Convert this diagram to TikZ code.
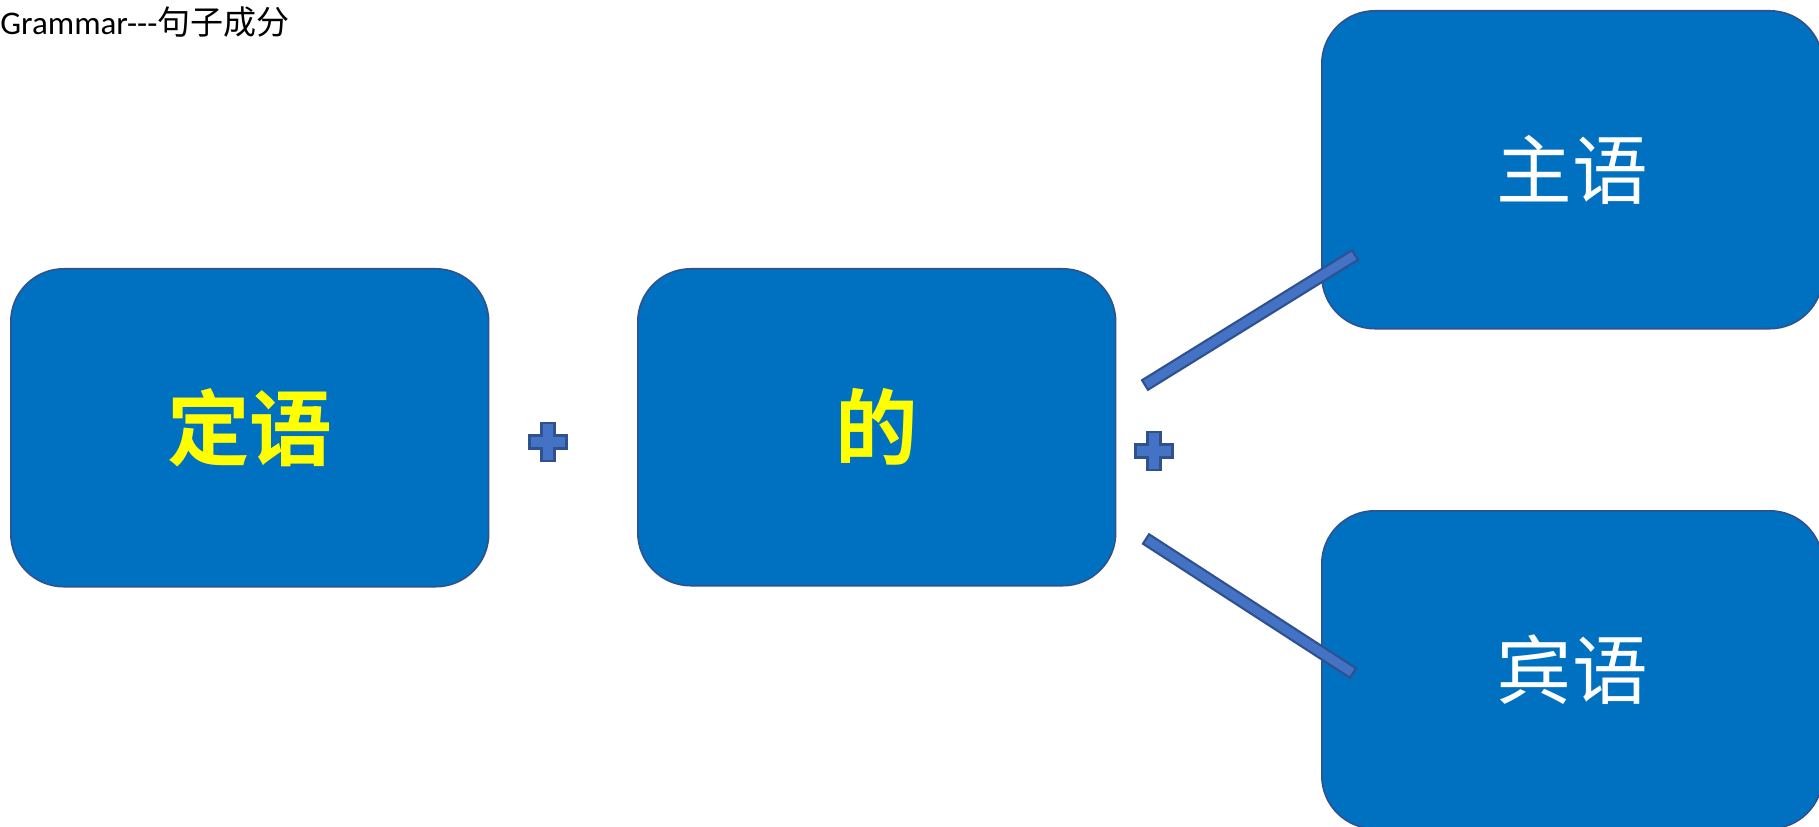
\documentclass[tikz,border=0pt]{standalone}
\usepackage{fontspec}
\usetikzlibrary{calc}
\setmainfont{Carlito}
\newfontfamily\cjk{Noto Sans CJK SC}
\newfontfamily\cjkb{Noto Sans CJK SC Bold}
\definecolor{boxblue}{HTML}{0070C0}
\definecolor{boxedge}{HTML}{2F528F}
\definecolor{plusblue}{HTML}{4472C4}
\definecolor{txtyellow}{HTML}{FFFF00}
\tikzset{
  bigbox/.style={draw=boxedge, fill=boxblue, line width=0.9pt, rounded corners=1.06cm, inner sep=0pt, anchor=north west},
  plusbar/.style={draw=boxedge, fill=plusblue, line width=1.2pt},
}
\begin{document}
\begin{tikzpicture}[x=0.02cm, y=-0.02cm]
\clip (0,0) rectangle (1819,827);
\fill[white] (0,0) rectangle (1819,827);
% title
\node[anchor=west, inner sep=0pt, font=\fontsize{18.8}{22}\selectfont] (title) at (0,22) {Grammar{-}{-}{-}{\cjk 句子成分}};
% boxes
\node[bigbox, minimum width=9.56cm, minimum height=6.36cm, font=\cjkb\fontsize{47}{52}\selectfont, text=txtyellow] (ding) at (10,268) {定语};
\node[bigbox, minimum width=9.56cm, minimum height=6.34cm, font=\cjkb\fontsize{47}{52}\selectfont, text=txtyellow] (de) at (637,268) {的};
\node[bigbox, minimum width=10.02cm, minimum height=6.36cm, font=\cjk\fontsize{43}{50}\selectfont, text=white] (zhu) at (1321,10) {主语};
\node[bigbox, minimum width=10.02cm, minimum height=6.36cm, font=\cjk\fontsize{43}{50}\selectfont, text=white] (bin) at (1321,510) {宾语};
% plus signs
\coordinate (p1) at (548,442);
\coordinate (p2) at (1154,451);
\foreach \p in {p1,p2}{
  \draw[plusbar] ([shift={(-6.5,-19)}]\p) -- ([shift={(6.5,-19)}]\p) -- ([shift={(6.5,-6.5)}]\p) -- ([shift={(18.5,-6.5)}]\p) -- ([shift={(18.5,6.5)}]\p) -- ([shift={(6.5,6.5)}]\p) -- ([shift={(6.5,19)}]\p) -- ([shift={(-6.5,19)}]\p) -- ([shift={(-6.5,6.5)}]\p) -- ([shift={(-18.5,6.5)}]\p) -- ([shift={(-18.5,-6.5)}]\p) -- ([shift={(-6.5,-6.5)}]\p) -- cycle;
}
% connector bars
\coordinate (a1) at (1145,385);
\coordinate (b1) at (1355,255);
\coordinate (a2) at (1146,539);
\coordinate (b2) at (1353,673);
\draw[plusbar] ($(a1)!3.2pt!90:(b1)$) -- ($(b1)!3.2pt!-90:(a1)$) -- ($(b1)!3.2pt!90:(a1)$) -- ($(a1)!3.2pt!-90:(b1)$) -- cycle;
\draw[plusbar] ($(a2)!3.2pt!90:(b2)$) -- ($(b2)!3.2pt!-90:(a2)$) -- ($(b2)!3.2pt!90:(a2)$) -- ($(a2)!3.2pt!-90:(b2)$) -- cycle;
\end{tikzpicture}
\end{document}
